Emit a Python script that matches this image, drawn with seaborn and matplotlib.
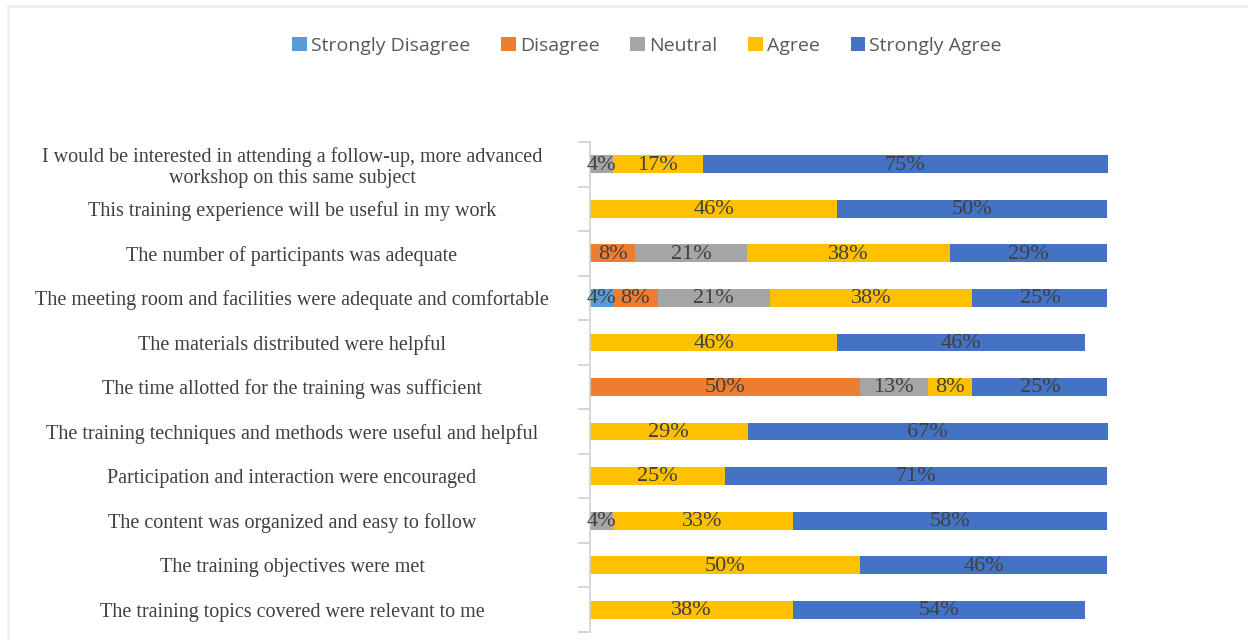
import matplotlib
matplotlib.use("Agg")
import matplotlib.pyplot as plt
from matplotlib.lines import Line2D
from matplotlib.patches import Patch
from matplotlib.ticker import FixedLocator
import math
import numpy as np
import pandas as pd
import seaborn as sns

questions = [
    "I would be interested in attending a follow-up, more advanced\nworkshop on this same subject",
    "This training experience will be useful in my work",
    "The number of participants was adequate",
    "The meeting room and facilities were adequate and comfortable",
    "The materials distributed were helpful",
    "The time allotted for the training was sufficient",
    "The training techniques and methods were useful and helpful",
    "Participation and interaction were encouraged",
    "The content was organized and easy to follow",
    "The training objectives were met",
    "The training topics covered were relevant to me",
]
levels = ["Strongly Disagree", "Disagree", "Neutral", "Agree", "Strongly Agree"]
strongly_disagree = [0, 0, 0, 4.17, 0, 0, 0, 0, 0, 0, 0]
disagree          = [0, 0, 8.33, 8.33, 0, 50.0, 0, 0, 0, 0, 0]
neutral           = [4.17, 0, 20.83, 20.83, 0, 12.5, 0, 0, 4.17, 0, 0]
agree             = [16.67, 45.83, 37.5, 37.5, 45.83, 8.33, 29.17, 25.0, 33.33, 50.0, 37.5]
strongly_agree    = [75.0, 50.0, 29.17, 25.0, 45.83, 25.0, 66.67, 70.83, 58.33, 45.83, 54.17]
colors = ["#5B9BD5", "#ED7D31", "#A5A5A5", "#FFC000", "#4472C4"]

sns.set_theme(style="white")
plt.rcParams["font.family"] = ["Liberation Serif", "DejaVu Serif"]

df = pd.DataFrame({"Question": questions,
                   "Strongly Disagree": strongly_disagree,
                   "Disagree": disagree,
                   "Neutral": neutral,
                   "Agree": agree,
                   "Strongly Agree": strongly_agree})
cum = df[levels].cumsum(axis=1)

fig = plt.figure(figsize=(12.48, 6.4), dpi=100)
W, H = 1248, 640
ax_left, ax_right = 590, 1130
ax_top, ax_bot = 142, 632
ax = fig.add_axes([ax_left / W, 1 - ax_bot / H, (ax_right - ax_left) / W, (ax_bot - ax_top) / H])

for lvl, col in reversed(list(zip(levels, colors))):
    sns.barplot(x=cum[lvl], y=df["Question"], orient="h", color=col,
                width=0.4, ax=ax, saturation=1, linewidth=0, order=questions)

ax.set_xlim(0, 100)
ax.set_ylim(len(questions) - 0.5, -0.5)

# segment labels
for i in range(len(questions)):
    start = 0
    for lvl in levels:
        v = df.loc[i, lvl]
        if v > 0:
            ax.text(start + v / 2, i + 0.02, f"{int(math.floor(v + 0.5))}%", ha="center", va="center",
                    fontsize=16, color="#404040", family="Liberation Serif")
        start += v

ax.set_xlabel("")
ax.set_ylabel("")
ax.set_xticks([])
for s in ["top", "right", "bottom"]:
    ax.spines[s].set_visible(False)
ax.spines["left"].set_color("#d0d0d0")
ax.spines["left"].set_linewidth(1.2)

ax.yaxis.set_minor_locator(FixedLocator(np.arange(-0.5, len(questions), 1.0)))
ax.tick_params(axis="y", which="minor", length=9, color="#d0d0d0", width=1.2, left=True)
pad_pt = (ax_left - 292) * 72 / 100
ax.tick_params(axis="y", which="major", length=0, pad=pad_pt, labelsize=14.5, labelcolor="#404040")
for lab in ax.get_yticklabels():
    lab.set_horizontalalignment("center")
    lab.set_multialignment("center")
    lab.set_linespacing(1.15)

handles = [Patch(facecolor=c, edgecolor="none") for c in colors]
leg = fig.legend(handles, levels, loc="center", bbox_to_anchor=(647 / W, 1 - 46 / H),
                 ncol=5, frameon=False, handlelength=0.75, handleheight=0.75,
                 handletextpad=0.2, columnspacing=1.6,
                 prop={"family": "Open Sans", "size": 14})
for t in leg.get_texts():
    t.set_color("#595959")

fig.add_artist(Line2D([8 / W, 8 / W], [0, 1 - 6 / H], color="#eeeeee", lw=2, transform=fig.transFigure))
fig.add_artist(Line2D([8 / W, 1], [1 - 6 / H, 1 - 6 / H], color="#eeeeee", lw=2, transform=fig.transFigure))

fig.savefig("out.png", dpi=100)
